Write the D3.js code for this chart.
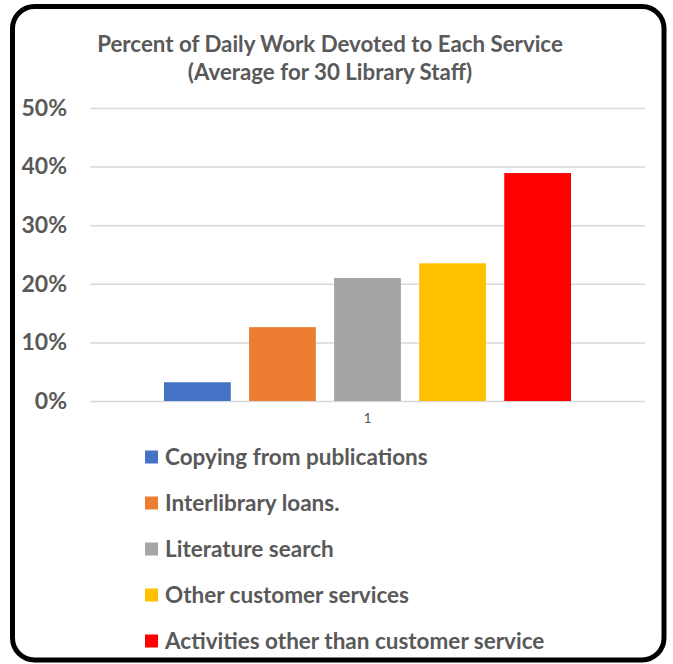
<!DOCTYPE html>
<html>
<head>
<meta charset="utf-8">
<script src="https://cdn.jsdelivr.net/npm/d3@7"></script>
<style>
  html, body { margin: 0; padding: 0; background: #fff; }
  svg { display: block; }
  text { font-family: Lato, "Open Sans", sans-serif; }
</style>
</head>
<body>
<svg id="chart" width="673" height="664"></svg>
<script>
// ---- data ----
const categories = ["1"];
const seriesNames = [
  "Copying from publications",
  "Interlibrary loans.",
  "Literature search",
  "Other customer services",
  "Activities other than customer service"
];
const seriesValues = [0.032, 0.126, 0.210, 0.235, 0.389];
const seriesColors = ["#4472C4", "#ED7D31", "#A5A5A5", "#FFC000", "#FF0000"];
const yTicks = [0, 0.1, 0.2, 0.3, 0.4, 0.5];
const titleLines = ["Percent of Daily Work Devoted to Each Service", "(Average for 30 Library Staff)"];

const svg = d3.select("#chart");
const textColor = "#595959";

// frame
svg.append("rect")
  .attr("x", 12.5).attr("y", 6.5)
  .attr("width", 651.5).attr("height", 653.5)
  .attr("rx", 22).attr("ry", 22)
  .attr("fill", "#fff").attr("stroke", "#000").attr("stroke-width", 5);

// title
svg.append("g").selectAll("text").data(titleLines).join("text")
  .attr("x", 330).attr("y", (d, i) => 52 + i * 28)
  .attr("text-anchor", "middle")
  .attr("fill", textColor)
  .attr("font-size", 22.3)
  .attr("font-weight", 700)
  .text(d => d);

const plot = { left: 90, right: 645, top: 108, bottom: 401 };

const y = d3.scaleLinear().domain([0, 0.5]).range([plot.bottom, plot.top]);
const x0 = d3.scaleBand().domain(categories).range([plot.left, plot.right]).paddingOuter(0.1333).paddingInner(0);
const x1 = d3.scaleBand().domain(seriesNames).range([0, 407]).paddingInner(0.215).paddingOuter(0);

// grid + y axis
const yAxis = d3.axisLeft(y).tickValues(yTicks).tickFormat(d3.format(".0%"))
  .tickSize(-(plot.right - plot.left)).tickPadding(23);
const gy = svg.append("g").attr("transform", `translate(${plot.left},0)`).call(yAxis);
gy.select(".domain").remove();
gy.selectAll(".tick line").attr("stroke", "#d9d9d9").attr("stroke-width", 1.5);
gy.selectAll(".tick text")
  .attr("fill", textColor).attr("font-size", 23).attr("font-weight", 700)
  .style("font-family", "Lato, sans-serif");

// bars
const groupX = x0("1") + (x0.bandwidth() - 407) / 2;
svg.append("g").attr("transform", `translate(${groupX},0)`)
  .selectAll("rect").data(seriesNames).join("rect")
  .attr("x", d => x1(d))
  .attr("width", x1.bandwidth())
  .attr("y", (d, i) => y(seriesValues[i]))
  .attr("height", (d, i) => plot.bottom - y(seriesValues[i]))
  .attr("fill", (d, i) => seriesColors[i]);

// x axis category label
const xAxis = d3.axisBottom(x0).tickSize(0).tickPadding(12);
const gx = svg.append("g").attr("transform", `translate(0,${plot.bottom})`).call(xAxis);
gx.select(".domain").remove();
gx.selectAll(".tick text").attr("fill", textColor).attr("font-size", 14)
  .style("font-family", "Lato, sans-serif");

// legend
const legend = svg.append("g").selectAll("g").data(seriesNames).join("g")
  .attr("transform", (d, i) => `translate(145,${457 + i * 46})`);
legend.append("rect").attr("x", 0).attr("y", -6.5).attr("width", 13).attr("height", 13)
  .attr("fill", (d, i) => seriesColors[i]);
legend.append("text").attr("x", 20).attr("y", 0).attr("dy", "0.35em")
  .attr("fill", textColor).attr("font-size", 22.5).attr("font-weight", 700)
  .text(d => d);
</script>
</body>
</html>
